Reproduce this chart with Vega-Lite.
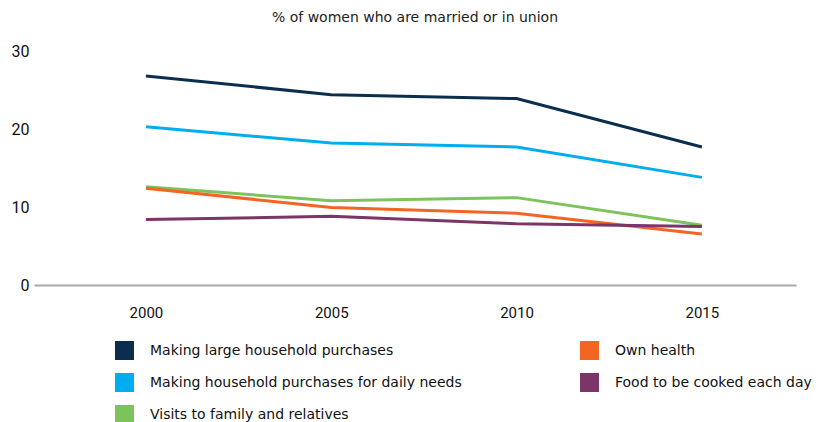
{
  "$schema": "https://vega.github.io/schema/vega-lite/v6.json",
  "width": 762,
  "height": 234,
  "autosize": "none",
  "padding": {"left": 34, "top": 51, "right": 20, "bottom": 137},
  "config": {"font": "DejaVu Sans", "view": {"stroke": null}},
  "title": {"text": "% of women who are married or in union", "fontSize": 14, "fontWeight": "normal", "color": "#222", "anchor": "middle", "offset": 18},
  "data": {"values": [
    {"year": 2000, "series": "Making large household purchases", "value": 26.8},
    {"year": 2005, "series": "Making large household purchases", "value": 24.4},
    {"year": 2010, "series": "Making large household purchases", "value": 23.9},
    {"year": 2015, "series": "Making large household purchases", "value": 17.7},
    {"year": 2000, "series": "Making household purchases for daily needs", "value": 20.3},
    {"year": 2005, "series": "Making household purchases for daily needs", "value": 18.2},
    {"year": 2010, "series": "Making household purchases for daily needs", "value": 17.7},
    {"year": 2015, "series": "Making household purchases for daily needs", "value": 13.8},
    {"year": 2000, "series": "Visits to family and relatives", "value": 12.6},
    {"year": 2005, "series": "Visits to family and relatives", "value": 10.8},
    {"year": 2010, "series": "Visits to family and relatives", "value": 11.2},
    {"year": 2015, "series": "Visits to family and relatives", "value": 7.65},
    {"year": 2000, "series": "Own health", "value": 12.4},
    {"year": 2005, "series": "Own health", "value": 9.95},
    {"year": 2010, "series": "Own health", "value": 9.2},
    {"year": 2015, "series": "Own health", "value": 6.55},
    {"year": 2000, "series": "Food to be cooked each day", "value": 8.4},
    {"year": 2005, "series": "Food to be cooked each day", "value": 8.8},
    {"year": 2010, "series": "Food to be cooked each day", "value": 7.85},
    {"year": 2015, "series": "Food to be cooked each day", "value": 7.5}
  ]},
  "mark": {"type": "line", "strokeWidth": 3},
  "encoding": {
    "x": {"field": "year", "type": "quantitative",
      "scale": {"domain": [1996.98, 2017.54], "nice": false, "zero": false},
      "axis": {"title": null, "values": [2000, 2005, 2010, 2015], "format": "d", "ticks": false, "grid": false,
        "domainColor": "#aaaaaa", "domainWidth": 2, "labelPadding": 20, "labelFontSize": 15, "labelColor": "#111", "labelFont": "Roboto"}},
    "y": {"field": "value", "type": "quantitative",
      "scale": {"domain": [0, 30], "nice": false},
      "axis": {"title": null, "values": [0, 10, 20, 30], "ticks": false, "grid": false, "domain": false,
        "labelPadding": 5, "labelFontSize": 16, "labelColor": "#111", "labelFont": "Roboto"}},
    "color": {"field": "series", "type": "nominal",
      "scale": {
        "domain": ["Making large household purchases", "Making household purchases for daily needs", "Visits to family and relatives", "Own health", "Food to be cooked each day"],
        "range": ["#0b2e4f", "#00aeef", "#7dc35b", "#f26522", "#7b3566"]},
      "legend": {"title": null, "orient": "none", "legendX": 81, "legendY": 290, "columns": 2,
        "symbolType": "square", "symbolSize": 361, "symbolStrokeWidth": 0, "symbolOpacity": 1,
        "labelFontSize": 14, "labelColor": "#111", "labelOffset": 16, "labelLimit": 400,
        "rowPadding": 13, "columnPadding": 118,
        "encode": {"symbols": {"update": {"fill": {"scale": "color", "field": "value"}, "strokeWidth": {"value": 0}}}}}}
  }
}
